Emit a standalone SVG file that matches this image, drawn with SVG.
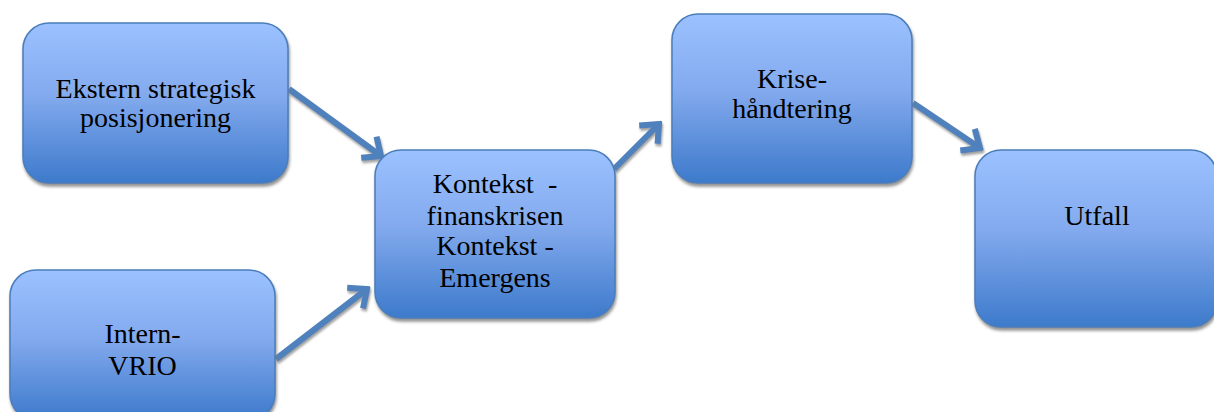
<svg xmlns="http://www.w3.org/2000/svg" width="1214" height="412" viewBox="0 0 1214 412">
<style>
.box{fill:url(#g);stroke:#4a7ebb;stroke-width:1.5;filter:url(#sh)}
.t{font-family:"Liberation Serif","DejaVu Serif",serif;font-size:28px;fill:#000;text-anchor:middle;white-space:pre}
.c{fill:none;stroke:#4f81bd;stroke-width:6;marker-end:url(#ah);filter:url(#sh2)}
</style>
<defs>
<linearGradient id="g" x1="0" y1="0" x2="0" y2="1">
<stop offset="0" stop-color="#9bc1ff"/>
<stop offset="0.45" stop-color="#83aaee"/>
<stop offset="1" stop-color="#3d7acb"/>
</linearGradient>
<filter id="sh" x="-10%" y="-10%" width="125%" height="125%">
<feDropShadow dx="1" dy="3" stdDeviation="1.5" flood-color="#777" flood-opacity="0.8"/>
</filter>
<filter id="sh2" x="-20%" y="-50%" width="140%" height="200%">
<feDropShadow dx="1" dy="2.5" stdDeviation="1" flood-color="#888" flood-opacity="0.8"/>
</filter>
<marker id="ah" viewBox="-22 -16 26 32" markerWidth="26" markerHeight="32" refX="0" refY="0" orient="auto" markerUnits="userSpaceOnUse">
<path d="M-15,-13 L0,0 L-15,13" fill="none" stroke="#4f81bd" stroke-width="6" stroke-linejoin="miter"/>
</marker>
</defs>
<g id="connectors">
<path class="c" d="M289,89 L381,156"/>
<path class="c" d="M276,359 L367,289"/>
<path class="c" d="M614,169 L659,124"/>
<path class="c" d="M913,103 L980,148"/>
<path class="c" d="M616,270 L971,270"/>
</g>
<g id="ekstern">
<rect class="box" x="23" y="23" width="265" height="160" rx="26"/>
<text class="t" x="155.5" y="98">Ekstern strategisk</text>
<text class="t" x="155.5" y="127">posisjonering</text>
</g>
<g id="intern">
<rect class="box" x="10" y="270" width="265" height="150" rx="26"/>
<text class="t" x="142.5" y="343">Intern-</text>
<text class="t" x="142.5" y="375">VRIO</text>
</g>
<g id="kontekst">
<rect class="box" x="375" y="150" width="240" height="168" rx="26"/>
<text class="t" x="495" y="193" xml:space="preserve">Kontekst  -</text>
<text class="t" x="495" y="225">finanskrisen</text>
<text class="t" x="495" y="255">Kontekst -</text>
<text class="t" x="495" y="287">Emergens</text>
</g>
<g id="krise">
<rect class="box" x="672" y="14" width="240" height="169" rx="26"/>
<text class="t" x="792" y="88">Krise-</text>
<text class="t" x="792" y="118">håndtering</text>
</g>
<g id="utfall">
<rect class="box" x="975" y="150" width="242" height="177" rx="26"/>
<text class="t" x="1097" y="225">Utfall</text>
</g>
</svg>
